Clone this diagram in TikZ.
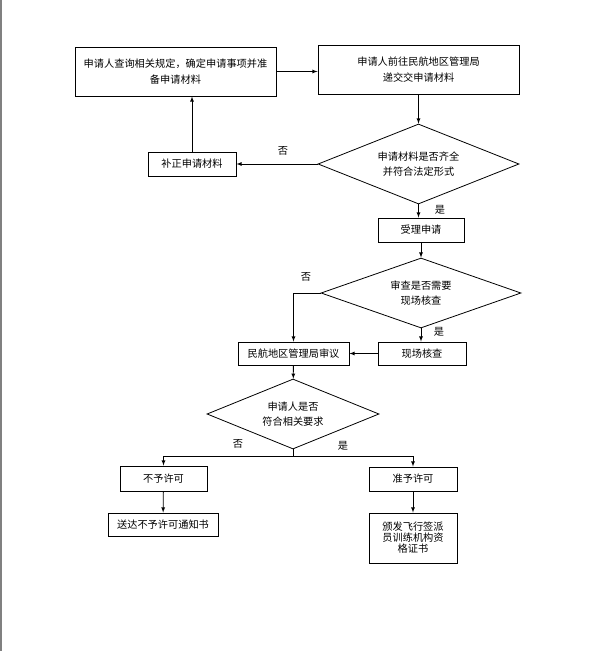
\documentclass[tikz,border=0pt]{standalone}
\usepackage{fontspec}
\setmainfont{Noto Sans CJK SC}
\usetikzlibrary{shapes.geometric, arrows, positioning}

\begin{document}
\begin{tikzpicture}[x=1pt, y=-1pt, font=\fontsize{10.2}{15.5}\selectfont, align=center,
  procbox/.style={draw, line width=0.9pt, inner sep=0pt},
  checkdia/.style={draw, diamond, aspect=2.5, inner sep=0pt, line width=0.8pt},
  arr/.style={-latex, line width=0.8pt}]
  \useasboundingbox (0,0) rectangle (596,651);
  % page edge
  \draw[gray, line width=2pt] (1,0) -- (1,651);

  % Submission
  \node (apply) [procbox, minimum width=201pt, minimum height=49pt] at (175.5,71.5) {申请人查询相关规定，确定申请事项并准\\备申请材料};
  \node (submit) [procbox, minimum width=201pt, minimum height=49pt] at (418.5,69.5) {申请人前往民航地区管理局\\递交交申请材料};
  \node (complete) [checkdia, minimum width=201pt, minimum height=80pt] at (418.5,164) {申请材料是否齐全\\并符合法定形式};
  \node (amend) [procbox, minimum width=88pt, minimum height=24pt] at (192,164) {补正申请材料};
  \node (accept) [procbox, minimum width=86pt, minimum height=24pt] at (421,230) {受理申请};

  % Review
  \node (needsite) [checkdia, minimum width=200pt, minimum height=70pt] at (421,293) {审查是否需要\\现场核查};
  \node (site) [procbox, minimum width=88pt, minimum height=23pt] at (422,353.5) {现场核查};
  \node (review) [procbox, minimum width=111pt, minimum height=23pt] at (293.5,353.5) {民航地区管理局审议};
  \node (meets) [checkdia, minimum width=172pt, minimum height=70pt] at (293,414) {申请人是否\\符合相关要求};

  % Decision
  \node (deny) [procbox, minimum width=87pt, minimum height=25pt] at (163.5,478.5) {不予许可};
  \node (grant) [procbox, minimum width=88pt, minimum height=24pt] at (413,479) {准予许可};
  \node (notice) [procbox, minimum width=110pt, minimum height=23pt] at (163,524.5) {送达不予许可通知书};
  \node (cert) [procbox, minimum width=88pt, minimum height=50pt, font=\fontsize{10.2}{11}\selectfont] at (413,538) {颁发飞行签派\\员训练机构资\\格证书};

  % Labels
  \node (no1) at (283,151) {否};
  \node (yes1) at (440,210) {是};
  \node (no2) at (306,277) {否};
  \node (yes2) at (439,332) {是};
  \node (no3) at (238,444) {否};
  \node (yes3) at (343,446) {是};

  % Connectors
  \draw[arr] (apply.east) -- (submit.west |- apply.east);
  \draw[arr] (submit) -- (complete);
  \draw[arr] (complete.west) -- (amend.east);
  \draw[arr] (amend.north) -- (amend.north |- apply.south);
  \draw[arr] (complete.south) -- (complete.south |- accept.north);
  \draw[arr] (accept) -- (needsite);
  \draw[arr] (needsite.west) -| (review.north);
  \draw[arr] (needsite.south) -- (needsite.south |- site.north);
  \draw[arr] (site) -- (review);
  \draw[arr] (review) -- (meets);
  \draw (meets.south) -- ++(0,7) coordinate (split);
  \draw[arr] (split) -| (deny.north);
  \draw[arr] (split) -| (grant.north);
  \draw[arr] (deny) -- (notice);
  \draw[arr] (grant) -- (cert);

\end{tikzpicture}
\end{document}
